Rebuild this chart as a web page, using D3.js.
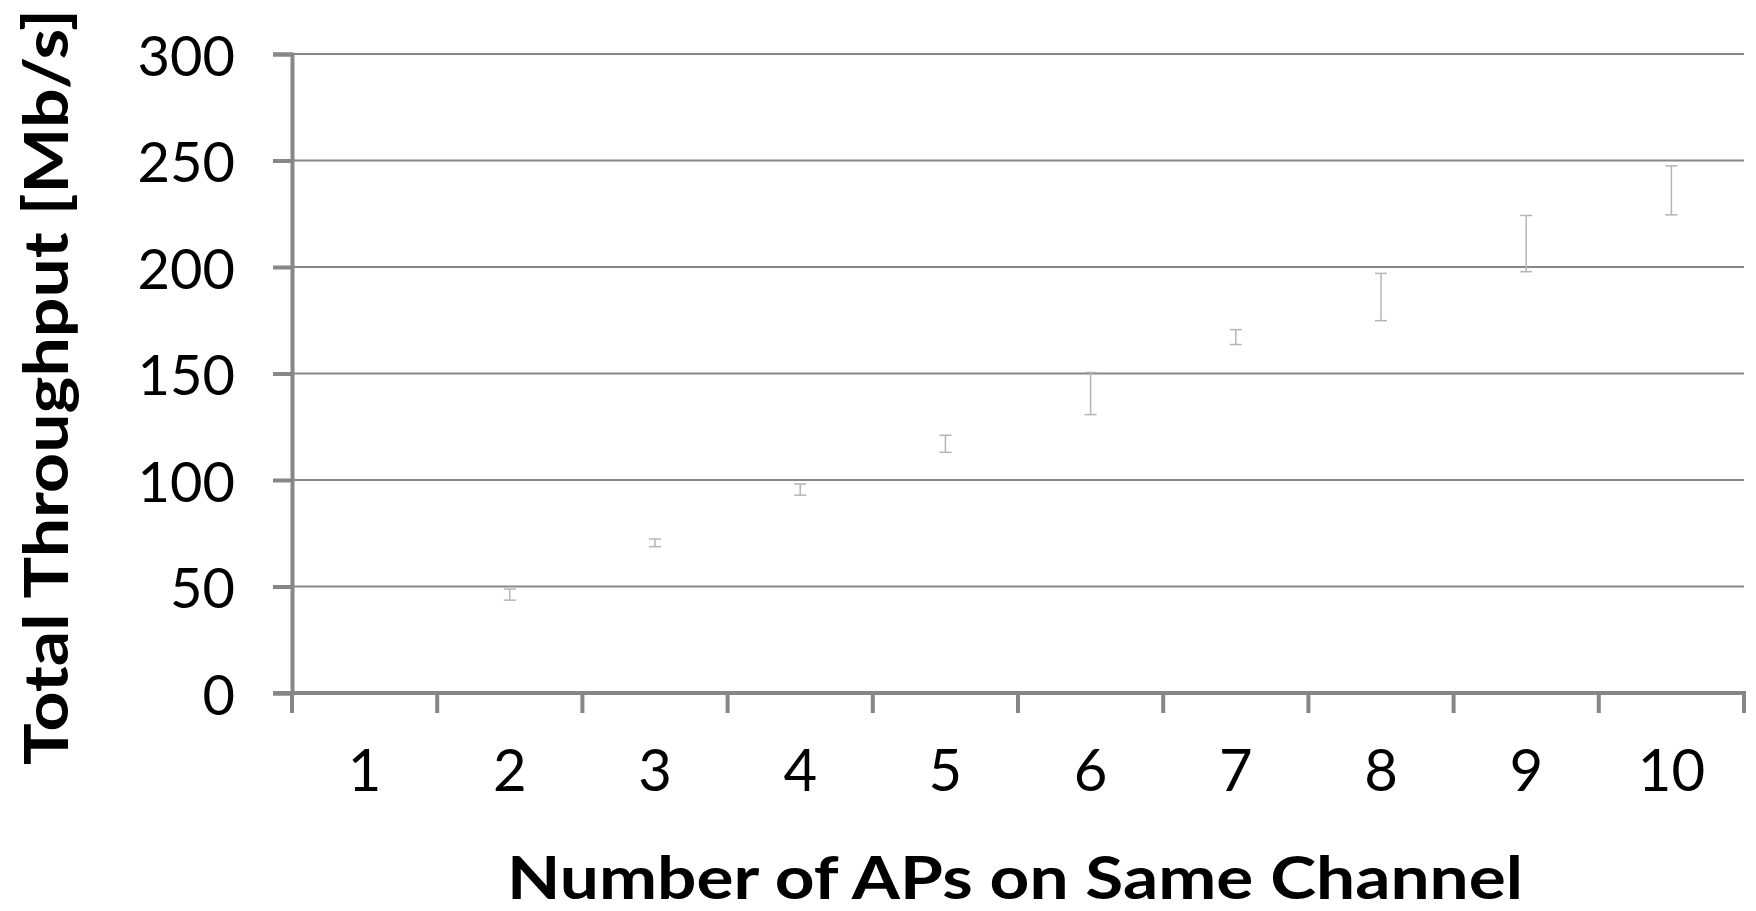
<!DOCTYPE html>
<html>
<head>
<meta charset="utf-8">
<script src="https://cdn.jsdelivr.net/npm/d3@7"></script>
<style>
  html, body { margin: 0; padding: 0; background: #fff; }
  svg { display: block; }
</style>
</head>
<body>
<svg id="chart" width="1756" height="911"></svg>
<script>
// Number of access points sharing a channel
const categories = ["1", "2", "3", "4", "5", "6", "7", "8", "9", "10"];
// Mean total throughput (Mb/s); no measurement shown for a single AP
const meanThroughput = [null, 46.2, 70.5, 95.5, 117.0, 140.6, 167.1, 185.9, 211.0, 236.0];
// Half-width of each error bar (Mb/s)
const errorHalf = [null, 2.6, 1.8, 2.6, 4.0, 9.9, 3.5, 11.1, 13.2, 11.5];
// Y axis ticks
const yTicks = [0, 50, 100, 150, 200, 250, 300];

const svg = d3.select("#chart");
const plotLeft = 292, plotRight = 1744, plotTop = 54, plotBottom = 693;
const axisColor = "#878787";
const tickFont = "Lato, 'Open Sans', sans-serif";

const x = d3.scaleBand().domain(categories).range([plotLeft, plotRight]).padding(0);
const y = d3.scaleLinear().domain([0, 300]).range([plotBottom, plotTop]);

// Horizontal gridlines
svg.append("g")
  .selectAll("line")
  .data(yTicks.filter(t => t > 0))
  .join("line")
  .attr("x1", plotLeft).attr("x2", plotRight)
  .attr("y1", d => y(d)).attr("y2", d => y(d))
  .attr("stroke", axisColor)
  .attr("stroke-width", 2.2);

// Y axis
const yAxis = svg.append("g")
  .attr("transform", `translate(${plotLeft},0)`)
  .call(d3.axisLeft(y).tickValues(yTicks).tickSize(19).tickPadding(38).tickFormat(d3.format("d")));
yAxis.select(".domain").attr("stroke", axisColor).attr("stroke-width", 4);
yAxis.selectAll(".tick line").attr("stroke", axisColor).attr("stroke-width", 4);
yAxis.selectAll(".tick text")
  .attr("fill", "#000")
  .style("font-family", tickFont)
  .style("font-size", "56px")
  .attr("dy", "0.38em");

// X axis: labels at band centers, tick marks at band boundaries
const xAxis = svg.append("g")
  .attr("transform", `translate(0,${plotBottom})`)
  .call(d3.axisBottom(x).tickSize(0).tickPadding(57));
xAxis.select(".domain").remove();
xAxis.selectAll(".tick text")
  .attr("fill", "#000")
  .style("font-family", tickFont)
  .style("font-size", "58px");

const boundaries = categories.map(c => x(c)).concat([x.range()[1]]);
svg.append("g")
  .selectAll("line")
  .data(boundaries)
  .join("line")
  .attr("x1", d => d).attr("x2", d => d)
  .attr("y1", plotBottom).attr("y2", plotBottom + 20)
  .attr("stroke", axisColor)
  .attr("stroke-width", 4);

svg.append("line")
  .attr("x1", plotLeft - 19).attr("x2", plotRight + 2)
  .attr("y1", plotBottom).attr("y2", plotBottom)
  .attr("stroke", axisColor)
  .attr("stroke-width", 4);

// Error bars
const bars = categories.map((c, i) => ({ c, m: meanThroughput[i], e: errorHalf[i] }))
  .filter(d => d.m !== null);
const capHalf = 6;
const eb = svg.append("g")
  .attr("stroke", "#b5b5b5")
  .attr("stroke-width", 1.5)
  .selectAll("g")
  .data(bars)
  .join("g")
  .attr("transform", d => `translate(${x(d.c) + x.bandwidth() / 2},0)`);
eb.append("line")
  .attr("y1", d => y(d.m + d.e)).attr("y2", d => y(d.m - d.e));
eb.append("line")
  .attr("x1", -capHalf).attr("x2", capHalf)
  .attr("y1", d => y(d.m + d.e)).attr("y2", d => y(d.m + d.e));
eb.append("line")
  .attr("x1", -capHalf).attr("x2", capHalf)
  .attr("y1", d => y(d.m - d.e)).attr("y2", d => y(d.m - d.e));

// Axis titles
svg.append("text")
  .attr("x", 1015).attr("y", 899)
  .attr("text-anchor", "middle")
  .attr("textLength", 1016)
  .attr("lengthAdjust", "spacingAndGlyphs")
  .style("font-family", "Lato, 'Open Sans', sans-serif")
  .style("font-weight", "bold")
  .style("font-size", "60px")
  .text("Number of APs on Same Channel");

svg.append("text")
  .attr("transform", "translate(68,387) rotate(-90)")
  .attr("text-anchor", "middle")
  .attr("textLength", 756)
  .attr("lengthAdjust", "spacingAndGlyphs")
  .style("font-family", "Lato, 'Open Sans', sans-serif")
  .style("font-weight", "bold")
  .style("font-size", "62px")
  .text("Total Throughput [Mb/s]");
</script>
</body>
</html>
